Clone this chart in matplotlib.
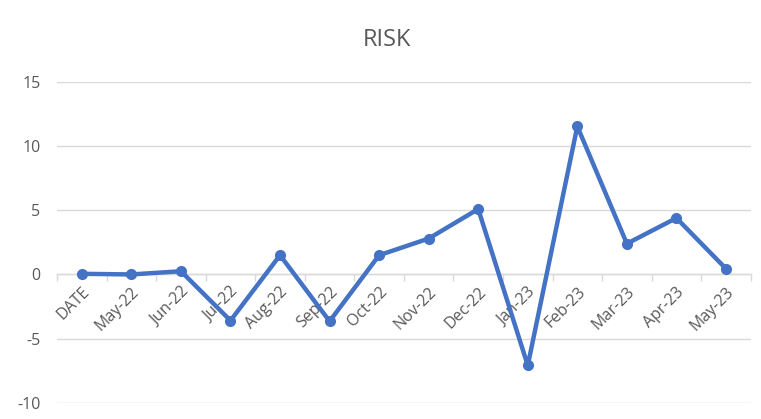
import numpy as np
import matplotlib
matplotlib.use("Agg")
import matplotlib.pyplot as plt
import matplotlib.transforms as mtransforms
from matplotlib.ticker import FixedLocator

categories = ['DATE', 'May-22', 'Jun-22', 'Jul-22', 'Aug-22', 'Sep-22', 'Oct-22',
              'Nov-22', 'Dec-22', 'Jan-23', 'Feb-23', 'Mar-23', 'Apr-23', 'May-23']
risk = [0.05, 0.0, 0.25, -3.6, 1.5, -3.65, 1.5, 2.8, 5.1, -7.1, 11.55, 2.4, 4.4, 0.45]
y_ticks = [-10, -5, 0, 5, 10, 15]

plt.rcParams['font.family'] = ['Open Sans', 'DejaVu Sans']
plt.rcParams['axes.unicode_minus'] = False
grey_text = '#595959'
grid_col = '#d9d9d9'
blue = '#4472c4'

fig = plt.figure(figsize=(7.61, 4.19), dpi=100)
ax = fig.add_axes([0.075, 0.039, 0.9115, 0.765])

x = np.arange(len(categories))
ax.plot(x, risk, color=blue, linewidth=3.2, marker='o', markersize=7,
        solid_joinstyle='round', zorder=3)

ax.set_xlim(-0.5, len(categories) - 0.5)
ax.set_ylim(-10, 15)
ax.set_yticks(y_ticks)
ax.grid(axis='y', color=grid_col, linewidth=1.0)
ax.set_axisbelow(True)

for s in ['left', 'right', 'top']:
    ax.spines[s].set_visible(False)
ax.spines['bottom'].set_position(('data', 0))
ax.spines['bottom'].set_color(grid_col)
ax.spines['bottom'].set_linewidth(1.0)

ax.tick_params(axis='y', length=0, pad=12, labelsize=11.5, labelcolor=grey_text)
ax.set_xticks(x)
ax.set_xticklabels(categories, rotation=45, ha='right', va='center',
                   rotation_mode='anchor', fontsize=11.5, color=grey_text)
ax.tick_params(axis='x', which='major', length=0, pad=11)
ax.xaxis.set_minor_locator(FixedLocator(np.arange(-0.5, len(categories), 1.0)))
ax.tick_params(axis='x', which='minor', length=5, color=grid_col, width=1.0)
shift = mtransforms.ScaledTranslation(4 / 72, 0, fig.dpi_scale_trans)
for lab in ax.get_xticklabels():
    lab.set_transform(lab.get_transform() + shift)

fig.text(0.508, 0.905, 'RISK', ha='center', va='center', fontsize=17, color=grey_text)

fig.savefig('out.png', dpi=100)
